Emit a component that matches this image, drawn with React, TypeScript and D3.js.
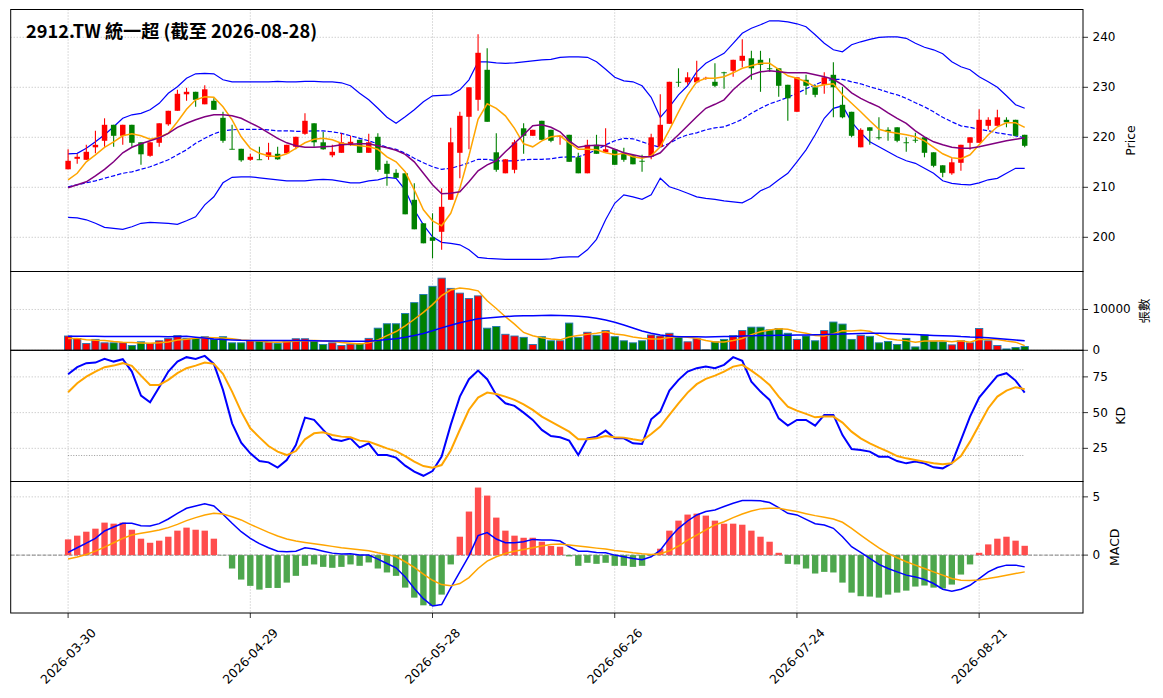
import * as d3 from 'd3'

// ---- data (index 0 = 2026-03-30) ----
const tickIdx = [0, 20, 40, 60, 80, 100]
const tickLabels = ['2026-03-30', '2026-04-29', '2026-05-28', '2026-06-26', '2026-07-24', '2026-08-21']

const open = [213.6,215.7,215.5,218.0,219.3,222.5,220.3,222.5,219.0,216.3,218.9,222.6,225.3,228.6,229.1,226.6,227.3,223.9,217.7,217.7,215.5,215.6,216.1,216.7,216.8,218.1,220.7,222.8,219.0,216.4,216.9,218.5,219.5,216.9,220.1,214.7,212.9,212.8,207.5,202.8,200.0,201.1,207.5,216.9,224.1,227.5,233.5,217.0,212.8,213.5,221.8,220.3,223.3,221.5,220.2,220.5,216.0,212.8,218.5,217.0,217.6,216.9,216.4,215.3,216.1,218.1,222.7,231.1,231.0,231.0,231.9,231.1,233.0,233.3,235.3,235.8,235.5,233.8,233.8,230.5,225.1,231.5,230.0,230.5,232.5,226.5,225.1,218.0,222.0,220.0,221.5,222.0,219.0,219.5,220.0,217.0,214.4,212.8,214.9,218.9,218.9,222.3,222.3,223.5,223.5,220.5]
const high = [217.6,216.7,218.5,221.3,223.8,222.5,222.5,222.5,219.0,219.0,222.8,225.3,229.5,229.9,229.1,230.4,227.8,225.1,222.5,217.7,216.7,218.1,218.9,218.1,218.5,220.1,224.8,222.8,221.1,218.5,220.8,220.3,219.5,220.7,220.8,215.3,213.6,212.8,210.8,202.8,204.8,209.8,221.9,225.1,230.0,240.6,237.8,220.8,215.6,219.5,222.8,221.5,223.3,221.5,220.4,220.5,216.9,219.5,220.5,221.8,217.6,217.9,216.4,216.5,220.7,228.6,231.1,233.8,233.0,235.3,232.1,234.8,233.1,235.5,239.6,237.3,237.3,235.8,233.8,230.5,232.0,232.5,230.5,233.0,235.0,230.1,225.1,221.8,222.0,224.0,222.0,222.0,220.0,220.9,220.0,217.0,214.4,215.8,218.5,220.0,225.6,224.0,225.5,224.0,223.5,220.5]
const low = [213.6,214.7,215.5,216.8,218.1,218.1,218.5,218.1,214.5,216.1,218.1,222.3,225.3,227.3,226.1,226.6,225.5,218.9,217.6,215.1,215.3,215.5,215.5,215.5,216.8,217.6,220.5,218.1,217.5,216.0,216.9,218.3,216.9,216.9,213.1,210.3,211.9,204.6,201.6,198.8,195.8,197.5,207.5,211.8,217.6,225.3,223.1,213.1,212.8,212.8,216.7,220.3,219.5,219.0,218.5,215.1,212.8,212.8,216.7,217.0,214.5,215.1,214.6,213.1,215.6,218.1,222.7,230.1,230.5,230.8,231.5,230.0,229.7,232.1,234.0,231.5,229.1,233.1,228.1,223.3,225.1,228.5,228.0,228.7,224.0,223.8,220.0,218.0,218.5,219.5,219.3,219.0,217.1,218.9,216.0,214.0,212.0,212.5,213.3,217.5,218.9,221.5,222.3,222.0,220.3,218.0]
const close = [215.3,216.1,217.1,218.5,222.5,220.3,222.5,218.9,216.6,219.0,222.8,225.3,228.7,229.1,227.5,229.6,225.5,219.3,217.6,215.4,216.1,215.5,217.0,215.6,218.5,220.1,223.3,219.0,217.6,217.1,219.0,219.1,216.9,219.0,213.5,212.7,211.9,204.6,201.6,198.8,199.3,206.1,219.0,224.3,230.0,236.9,223.1,213.5,215.6,219.0,220.3,221.5,219.5,219.3,220.3,215.1,212.8,218.5,216.7,217.6,214.5,215.5,214.6,215.2,220.0,222.5,231.1,231.0,232.0,232.0,231.9,230.3,232.9,235.5,236.3,233.8,234.5,233.7,230.3,227.8,232.0,230.3,228.5,232.0,230.0,224.0,220.3,221.5,221.3,219.9,221.1,219.3,218.9,219.4,216.9,214.3,212.9,215.0,218.5,220.0,223.5,223.5,224.0,223.0,220.3,218.3]

const bbUpper = [216.7,216.8,217.8,219.1,220.5,222.1,223.8,224.5,224.8,225.5,226.8,228.8,230.1,231.8,232.7,232.8,232.7,231.5,231.1,231.1,231.1,231.1,231.1,231.2,231.1,231.1,231.2,231.2,231.1,231.1,230.9,230.3,228.8,227.5,225.8,224.0,222.8,224.1,225.5,227.1,228.3,228.4,228.5,229.5,231.5,235.1,235.1,234.9,234.8,234.9,235.1,235.3,235.5,235.6,236.0,236.1,236.1,236.0,235.1,233.6,232.0,231.3,231.1,230.3,228.0,224.0,226.1,228.5,230.3,233.1,234.8,235.8,236.8,238.8,240.8,241.8,242.5,243.3,243.3,243.1,242.7,242.1,240.5,238.8,237.5,237.1,238.5,239.1,239.6,240.0,240.1,240.1,239.8,238.8,238.0,237.5,236.7,235.1,234.1,233.5,232.1,231.1,230.0,228.3,226.5,225.8]
const bbLower = [204.0,203.9,203.5,202.8,202.0,201.8,201.6,202.1,202.8,203.0,202.9,202.8,202.6,203.3,204.1,206.5,208.1,210.9,212.0,212.1,212.1,211.9,211.7,211.5,211.3,211.3,211.3,211.5,211.6,211.5,211.2,210.9,210.9,211.3,211.5,212.0,211.8,209.5,205.5,202.5,200.1,199.0,198.8,198.5,197.5,196.0,195.8,195.7,195.6,195.6,195.6,195.6,195.6,195.7,196.0,196.1,196.1,197.5,199.6,203.5,206.8,208.5,208.1,207.6,208.5,211.8,210.1,209.5,208.8,208.1,207.8,207.6,207.3,207.1,206.9,207.8,209.3,210.1,211.5,212.8,215.1,217.5,220.5,223.8,225.8,226.3,223.1,220.9,219.1,218.1,217.1,216.1,215.3,214.8,213.8,212.8,211.3,210.8,210.6,210.5,210.9,211.5,211.8,212.8,213.8,213.8]
const ma20 = [210.1,210.5,210.9,211.3,211.8,212.3,212.8,213.1,213.6,214.1,214.8,215.5,216.5,217.5,218.8,219.8,220.7,221.3,221.5,221.6,221.6,221.6,221.5,221.3,221.3,221.2,221.2,221.3,221.3,221.1,220.8,220.3,219.8,219.3,218.7,218.0,217.6,216.8,215.8,214.9,214.1,213.6,213.8,214.3,214.9,215.6,215.6,215.3,215.3,215.3,215.5,215.6,215.6,215.7,216.0,216.1,216.1,216.7,217.5,218.5,219.3,219.8,219.7,219.1,218.5,218.0,218.8,219.8,220.5,220.9,221.5,221.9,222.1,222.8,223.6,224.8,225.8,226.7,227.3,228.0,228.8,229.7,230.5,231.3,231.6,231.6,231.1,230.7,230.1,229.6,229.0,228.5,227.8,226.9,226.1,225.1,224.0,223.1,222.3,222.0,221.6,221.3,220.9,220.6,220.3,219.9]
const ma5 = [211.5,212.8,215.1,216.5,218.0,219.1,220.3,220.7,220.3,219.6,220.0,220.8,223.1,225.6,227.5,228.1,228.0,226.1,223.5,220.1,217.8,216.8,216.3,216.1,216.7,217.8,218.9,219.6,219.8,219.5,218.8,218.5,218.3,218.1,217.6,216.1,215.1,213.1,209.5,205.5,203.3,202.3,204.8,209.8,216.3,223.6,226.7,225.8,224.3,221.8,218.7,218.1,219.3,220.1,220.3,218.9,217.6,217.6,217.5,216.9,216.5,216.8,216.1,215.8,216.3,218.1,221.5,225.1,228.5,231.1,231.8,231.8,232.1,232.9,233.8,234.3,234.8,234.8,233.6,232.3,231.8,231.1,230.1,230.5,230.7,228.5,226.8,225.1,223.3,221.6,221.1,220.8,220.5,220.1,219.3,218.0,216.7,215.9,215.7,216.5,218.5,220.5,222.1,222.9,222.9,222.0]
const ma10 = [209.9,210.5,211.1,212.3,213.6,215.1,216.9,218.0,218.7,219.3,219.9,220.8,222.0,222.8,223.5,224.1,224.5,224.5,224.3,223.8,222.9,222.0,220.9,219.8,218.9,218.3,218.0,218.0,218.1,218.2,218.5,218.6,218.7,218.7,218.3,217.9,217.4,216.6,215.1,212.8,210.5,208.7,208.8,209.1,211.1,213.3,214.5,215.3,217.1,218.8,220.5,222.3,222.5,222.0,221.1,219.3,218.0,218.3,218.4,218.3,217.6,216.9,216.5,216.1,216.1,216.9,218.8,220.5,222.3,224.1,225.8,226.6,227.5,229.5,231.1,232.5,233.1,233.3,233.1,232.9,232.9,232.9,232.5,232.1,231.6,230.5,228.9,227.8,226.9,226.1,224.9,223.8,222.8,221.3,220.1,219.1,218.5,218.0,217.8,217.8,218.1,218.5,218.9,219.3,219.6,219.9]

const volume = [3500,2900,1670,2670,1830,1830,1830,1170,2080,1670,2330,2920,3580,2920,2920,3330,2670,3330,1830,1830,2330,2250,2000,1670,2250,2830,2830,2250,1420,1830,1170,1500,1670,2920,5420,6500,6500,9000,11670,13670,15670,17670,15170,14000,12670,13330,5420,5830,3920,3500,3170,1420,3330,2330,2330,6670,3170,4420,3670,4830,3330,2330,1830,2330,3750,3500,4170,3170,2080,2830,100,2080,2670,3580,4830,5670,5670,5000,5330,4170,2670,3500,2330,4830,6920,6420,2670,3670,3420,1830,2170,1420,2920,830,3750,2250,2080,1330,2330,1830,5330,2330,1170,330,670,920]
const volMa5 = [2920,2920,2600,2450,2400,2150,1950,1880,1800,1750,1850,2050,2500,2700,2950,3130,3080,3030,2800,2550,2400,2250,2050,2000,2100,2200,2350,2370,2320,2230,1900,1750,1520,1820,2540,3600,4600,6000,7600,9300,11200,13400,14750,15240,15040,14570,12120,10250,8230,6400,4370,3570,3070,2780,2560,3250,3600,3900,4150,4520,3980,3730,3250,2930,2760,2750,3150,3380,3200,2950,2400,2060,2050,2400,2900,3850,4550,4970,5250,5170,4570,4150,3650,3500,4080,4800,4750,4900,4650,3650,2800,2500,2370,2000,2250,2250,2350,2100,2350,2000,2700,2650,2620,2250,2000,1150]
const volMa20 = [3450,3450,3440,3420,3400,3380,3380,3370,3380,3380,3360,3330,3380,3420,3200,3000,2750,2650,2550,2450,2400,2380,2400,2390,2400,2420,2380,2330,2300,2300,2250,2230,2200,2240,2400,2620,2850,3200,3650,4100,4800,5500,6150,6750,7250,7700,7900,8100,8250,8400,8450,8450,8550,8600,8550,8450,8350,8150,7850,7400,6850,6200,5450,4750,4200,3750,3500,3330,3300,3300,3250,3300,3350,3400,3500,3550,3600,3650,3670,3700,3720,3750,3800,3850,3950,4000,4050,4100,4150,4150,4100,4050,3950,3850,3750,3650,3580,3500,3350,3250,3200,3080,2900,2700,2500,2330]

const kVal = [76.9,81.8,84.6,85.0,87.6,85.7,87.4,78.7,61.9,57.2,67.8,78.7,85.7,88.8,87.6,89.7,84.1,65.9,42.5,29.0,21.5,16.1,15.2,11.5,16.8,27.3,46.5,44.9,37.9,31.3,30.1,32.0,25.5,28.5,20.3,20.3,18.5,12.9,8.7,5.8,9.1,19.2,41.4,61.2,73.4,79.4,73.4,62.4,56.5,54.7,50.0,44.9,37.9,33.6,32.7,30.4,20.3,32.0,33.2,37.4,32.0,32.0,28.5,28.0,45.3,50.7,65.4,72.9,78.7,81.1,82.2,81.1,83.4,88.8,86.2,71.7,64.7,58.9,46.0,40.9,44.9,44.9,40.9,48.4,48.4,34.3,24.5,23.8,22.7,19.2,19.2,16.1,14.5,15.7,14.5,11.7,11.0,14.5,30.8,47.2,60.5,68.2,75.7,77.6,72.4,64.0]
const dVal = [64.3,70.6,75.2,78.7,81.8,82.9,84.6,82.7,75.9,69.4,69.4,72.9,77.6,81.1,82.9,85.0,84.1,77.1,64.7,50.7,39.0,32.7,26.6,22.7,20.3,23.1,31.3,35.5,36.2,34.3,33.2,32.7,30.4,29.7,27.3,25.0,23.1,19.6,15.7,12.6,11.5,13.3,23.5,38.0,52.0,60.5,64.0,63.0,61.2,58.9,55.8,51.9,47.2,43.7,40.2,36.7,31.3,31.3,32.0,33.6,32.7,32.5,31.3,30.4,35.0,40.2,48.4,56.5,64.0,69.9,73.6,75.9,78.7,82.2,83.4,79.4,74.8,69.4,61.2,54.2,51.4,49.1,46.7,47.2,47.2,43.0,36.7,32.0,28.5,25.5,22.7,19.6,18.0,16.8,15.7,14.5,13.8,14.5,19.6,29.7,41.4,53.1,61.2,65.4,67.8,66.4]

const macdHist = [1.35,1.67,2.01,2.27,2.79,2.70,2.79,2.18,1.41,1.06,1.24,1.58,2.10,2.36,2.18,2.10,1.41,-0.02,-1.15,-2.10,-2.64,-2.96,-2.82,-2.82,-2.36,-1.78,-0.92,-0.80,-1.01,-1.09,-1.01,-0.80,-0.92,-0.63,-1.15,-1.49,-1.78,-2.79,-3.65,-4.31,-4.37,-3.39,-0.80,1.58,3.74,5.80,5.11,3.22,2.10,1.67,1.49,1.49,1.15,0.78,0.72,-0.11,-0.92,-0.66,-0.75,-0.66,-0.92,-0.92,-1.01,-0.92,-0.05,0.55,2.10,2.96,3.48,3.56,3.39,2.96,2.70,2.70,2.61,2.10,1.58,1.15,0.20,-0.75,-0.80,-1.15,-1.58,-1.44,-1.49,-2.36,-3.22,-3.53,-3.56,-3.65,-3.39,-3.22,-3.05,-2.70,-2.61,-2.79,-2.87,-2.53,-1.67,-0.80,0.20,0.92,1.41,1.58,1.24,0.80]
const macdDif = [0.23,0.63,1.03,1.44,2.07,2.41,2.73,2.73,2.53,2.50,2.70,3.10,3.59,4.02,4.22,4.40,4.22,3.51,2.73,2.01,1.44,0.98,0.63,0.34,0.29,0.34,0.63,0.52,0.34,0.17,0.09,0.11,0.00,0.00,-0.34,-0.72,-1.09,-1.87,-2.87,-3.74,-4.37,-4.25,-2.82,-1.44,-0.06,1.67,1.93,1.38,1.06,1.06,1.15,1.35,1.29,1.29,1.21,0.72,0.34,0.34,0.23,0.20,0.00,-0.14,-0.29,-0.40,-0.14,0.43,1.44,2.30,2.93,3.45,3.74,3.88,4.17,4.45,4.68,4.68,4.66,4.51,4.08,3.59,3.45,3.07,2.70,2.59,2.30,1.58,0.72,0.23,-0.29,-0.80,-1.15,-1.44,-1.72,-1.87,-2.10,-2.44,-2.93,-3.10,-2.93,-2.59,-2.01,-1.44,-1.06,-0.86,-0.86,-1.01]
const macdDea = [-0.34,-0.17,0.06,0.34,0.69,1.06,1.44,1.72,1.87,2.01,2.16,2.36,2.64,2.96,3.22,3.45,3.59,3.53,3.30,3.02,2.64,2.30,1.95,1.64,1.38,1.21,1.09,0.98,0.86,0.75,0.63,0.55,0.46,0.37,0.20,0.06,-0.14,-0.57,-1.06,-1.64,-2.16,-2.53,-2.64,-2.44,-1.93,-1.15,-0.52,-0.14,0.14,0.34,0.49,0.63,0.78,0.92,0.95,0.86,0.78,0.69,0.60,0.52,0.40,0.32,0.20,0.11,0.06,0.11,0.37,0.78,1.29,1.72,2.16,2.59,2.87,3.22,3.53,3.79,3.97,4.02,4.02,3.88,3.74,3.56,3.39,3.25,3.10,2.82,2.30,1.72,1.15,0.63,0.14,-0.23,-0.57,-0.86,-1.15,-1.44,-1.72,-2.01,-2.16,-2.18,-2.13,-2.01,-1.87,-1.72,-1.58,-1.44]

const priceTicks = [200, 210, 220, 230, 240]
const volTicks = [0, 10000]
const kdTicks = [25, 50, 75]
const macdTicks = [0, 5]

// ---- layout ----
const W = 1163, H = 698
const L = 10.7, R = 1083
const P = {
  main: [9.5, 271.5],
  vol: [271.5, 350.3],
  kd: [350.3, 481.5],
  macd: [481.5, 613],
}
const UP = '#ff0000', DOWN = '#008000'
const TICK_FONT = "'DejaVu Sans', 'Noto Sans CJK TC', sans-serif"

const idx = d3.range(open.length)
const x = d3.scaleLinear().domain([-6.3, 111.4]).range([L, R])
const step = x(1) - x(0)
const yMain = d3.scaleLinear().domain([193.16, 245.56]).range([P.main[1], P.main[0]])
const yVol = d3.scaleLinear().domain([0, 19300]).range([P.vol[1], P.vol[0]])
const yKd = d3.scaleLinear().domain([1.8, 93.6]).range([P.kd[1], P.kd[0]])
const yMacd = d3.scaleLinear().domain([-4.97, 6.32]).range([P.macd[1], P.macd[0]])

function path(vals: number[], y: d3.ScaleLinear<number, number>) {
  return d3.line<number>().x((_, i) => x(i)).y(d => y(d))(vals) || ''
}

function Grid({ band, y, ticks }: { band: number[]; y: d3.ScaleLinear<number, number>; ticks: number[] }) {
  return (
    <g stroke="#aaaaaa" strokeWidth={0.8} strokeDasharray="1,2">
      {tickIdx.map(t => <line key={'v' + t} x1={x(t)} x2={x(t)} y1={band[0]} y2={band[1]} />)}
      {ticks.map(t => <line key={'h' + t} x1={L} x2={R} y1={y(t)} y2={y(t)} />)}
    </g>
  )
}

function YAxis({ y, ticks }: { y: d3.ScaleLinear<number, number>; ticks: number[] }) {
  return (
    <g fontFamily={TICK_FONT} fontSize={12} fill="#000">
      {ticks.map(t => (
        <g key={t}>
          <line x1={R} x2={R + 5} y1={y(t)} y2={y(t)} stroke="#000" strokeWidth={0.8} />
          <text x={R + 9.5} y={y(t)} dominantBaseline="central">{String(t)}</text>
        </g>
      ))}
    </g>
  )
}

function Frame({ band }: { band: number[] }) {
  return <rect x={L} y={band[0]} width={R - L} height={band[1] - band[0]} fill="none" stroke="#000" strokeWidth={1} />
}

export default function App() {
  const bodyW = step * 0.6
  const volW = step * 0.8
  const histW = step * 0.7
  return (
    <svg width={W} height={H} style={{ position: 'absolute', left: 0, top: 0, background: '#fff' }}>
      <rect width={W} height={H} fill="#fff" />

      {/* main price panel */}
      <Grid band={P.main} y={yMain} ticks={priceTicks} />
      <path d={path(bbUpper, yMain)} fill="none" stroke="blue" strokeWidth={1.2} />
      <path d={path(bbLower, yMain)} fill="none" stroke="blue" strokeWidth={1.2} />
      <path d={path(ma20, yMain)} fill="none" stroke="blue" strokeWidth={1.2} strokeDasharray="4.4,1.9" />
      {idx.map(i => {
        const up = close[i] >= open[i]
        const c = up ? UP : DOWN
        const top = yMain(Math.max(open[i], close[i]))
        const bot = yMain(Math.min(open[i], close[i]))
        return (
          <g key={i}>
            <line x1={x(i)} x2={x(i)} y1={yMain(high[i])} y2={yMain(low[i])} stroke={c} strokeWidth={1.1} />
            <rect x={x(i) - bodyW / 2} y={top} width={bodyW} height={Math.max(bot - top, 0.9)} fill={c} />
          </g>
        )
      })}
      <path d={path(ma5, yMain)} fill="none" stroke="orange" strokeWidth={1.5} />
      <path d={path(ma10, yMain)} fill="none" stroke="purple" strokeWidth={1.5} />
      <text x={26} y={38} fontFamily="'Noto Sans CJK TC', sans-serif" fontWeight="bold" fontSize={18.2}>2912.TW 統一超 (截至 2026-08-28)</text>
      <Frame band={P.main} />
      <YAxis y={yMain} ticks={priceTicks} />

      {/* volume panel */}
      <Grid band={P.vol} y={yVol} ticks={volTicks} />
      {idx.map(i => (
        <rect key={i} x={x(i) - volW / 2} y={yVol(volume[i])} width={volW} height={yVol(0) - yVol(volume[i])}
          fill={close[i] >= open[i] ? UP : DOWN} stroke="#1f77b4" strokeWidth={0.9} />
      ))}
      <path d={path(volMa5, yVol)} fill="none" stroke="orange" strokeWidth={1.5} />
      <path d={path(volMa20, yVol)} fill="none" stroke="blue" strokeWidth={1.5} />
      <Frame band={P.vol} />
      <YAxis y={yVol} ticks={volTicks} />

      {/* KD panel */}
      <Grid band={P.kd} y={yKd} ticks={kdTicks} />
      {[80, 20].map(v => (
        <line key={v} x1={x(0)} x2={x(idx.length - 1)} y1={yKd(v)} y2={yKd(v)} stroke="#808080" strokeWidth={0.8} strokeDasharray="1,1.6" />
      ))}
      <path d={path(kVal, yKd)} fill="none" stroke="blue" strokeWidth={2} />
      <path d={path(dVal, yKd)} fill="none" stroke="orange" strokeWidth={2} />
      <Frame band={P.kd} />
      <YAxis y={yKd} ticks={kdTicks} />

      {/* MACD panel */}
      <Grid band={P.macd} y={yMacd} ticks={macdTicks} />
      <line x1={L} x2={R} y1={yMacd(0)} y2={yMacd(0)} stroke="#808080" strokeWidth={1} strokeDasharray="3.7,1.6" />
      {idx.map(i => {
        const v = macdHist[i]
        return (
          <rect key={i} x={x(i) - histW / 2} y={yMacd(Math.max(v, 0))} width={histW}
            height={Math.abs(yMacd(v) - yMacd(0))} fill={v >= 0 ? '#ff4d4d' : '#4da64d'} />
        )
      })}
      <path d={path(macdDif, yMacd)} fill="none" stroke="blue" strokeWidth={1.5} />
      <path d={path(macdDea, yMacd)} fill="none" stroke="orange" strokeWidth={1.5} />
      <Frame band={P.macd} />
      <YAxis y={yMacd} ticks={macdTicks} />

      {/* x axis */}
      <g fontFamily={TICK_FONT} fontSize={12.4}>
        {tickIdx.map((t, k) => (
          <g key={t}>
            <line x1={x(t)} x2={x(t)} y1={P.macd[1]} y2={P.macd[1] + 5} stroke="#000" strokeWidth={0.8} />
            <text transform={`translate(${x(t)},656) rotate(-45)`} textAnchor="middle" dominantBaseline="central">{tickLabels[k]}</text>
          </g>
        ))}
      </g>

      {/* y labels */}
      <g fontFamily={TICK_FONT} fontSize={12.5}>
        <text transform={`translate(1130,${(P.main[0] + P.main[1]) / 2}) rotate(-90)`} textAnchor="middle" dominantBaseline="central">Price</text>
        <text transform={`translate(1144,${(P.vol[0] + P.vol[1]) / 2}) rotate(-90)`} textAnchor="middle" dominantBaseline="central">張數</text>
        <text transform={`translate(1120,${(P.kd[0] + P.kd[1]) / 2}) rotate(-90)`} textAnchor="middle" dominantBaseline="central">KD</text>
        <text transform={`translate(1114,${(P.macd[0] + P.macd[1]) / 2}) rotate(-90)`} textAnchor="middle" dominantBaseline="central">MACD</text>
      </g>
    </svg>
  )
}
